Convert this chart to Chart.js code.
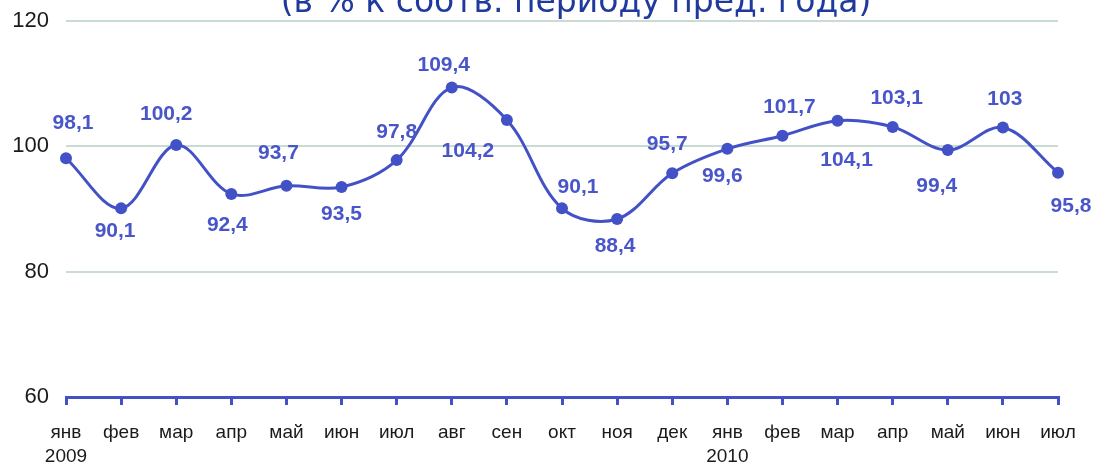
<!DOCTYPE html>
<html>
<head>
<meta charset="utf-8">
<script src="https://cdn.jsdelivr.net/npm/chart.js@4/dist/chart.umd.min.js"></script>
<style>
    html, body { margin: 0; padding: 0; background: #ffffff; overflow: hidden; }
    #wrap { position: relative; width: 1094px; height: 464px; }
</style>
</head>
<body>
<div id="wrap"><canvas id="chart"></canvas></div>
<script>
// months (second line = year under January)
const months = ['янв', 'фев', 'мар', 'апр', 'май', 'июн', 'июл', 'авг', 'сен', 'окт', 'ноя', 'дек',
                'янв', 'фев', 'мар', 'апр', 'май', 'июн', 'июл'];
const years = ['2009', '', '', '', '', '', '', '', '', '', '', '', '2010', '', '', '', '', '', ''];

// index, % to the same period of previous year
const values = [98.1, 90.1, 100.2, 92.4, 93.7, 93.5, 97.8, 109.4, 104.2, 90.1, 88.4, 95.7,
                99.6, 101.7, 104.1, 103.1, 99.4, 103, 95.8];

// y axis ticks
const yTicks = [60, 80, 100, 120];

// value label nudges relative to the point (px), as placed in the original
const labelDx = [7, -6, -10, -4, -8, 0, 0, -8, -39, 16, -2, -5, -5, 7, 9, 4, -11, 2, 13];
const labelDy = [-35, 23, -31, 31, -33, 27, -28, -22, 31, -21, 27, -29, 27, -28, 40, -29, 36, -28, 34];

const titleText = '(в % к соотв. периоду пред. года)';

const colors = {
    line: '#4351c7',
    label: '#4956c9',
    title: '#1f3a9c',
    grid: '#c9dbd3',
    text: '#1a1a1a'
};

const labels = months.map((m, i) => years[i] ? [m, years[i]] : [m]);

// title line, only its lower part fits on the picture
const topTitle = {
    id: 'topTitle',
    afterDraw(chart) {
        const ctx = chart.ctx;
        ctx.save();
        ctx.font = '33px "DejaVu Sans", Verdana, sans-serif';
        ctx.fillStyle = colors.title;
        ctx.textAlign = 'center';
        ctx.textBaseline = 'alphabetic';
        ctx.fillText(titleText, 576, 12);
        ctx.restore();
    }
};

// draws the value labels next to each point
const valueLabels = {
    id: 'valueLabels',
    afterDatasetsDraw(chart) {
        const ctx = chart.ctx;
        const meta = chart.getDatasetMeta(0);
        ctx.save();
        ctx.font = 'bold 21px "Liberation Sans", Arial, sans-serif';
        ctx.fillStyle = colors.label;
        ctx.textAlign = 'center';
        ctx.textBaseline = 'middle';
        meta.data.forEach((pt, i) => {
            const txt = String(values[i]).replace('.', ',');
            ctx.fillText(txt, pt.x + labelDx[i], pt.y + labelDy[i]);
        });
        ctx.restore();
    }
};

new Chart(document.getElementById('chart'), {
    type: 'line',
    data: {
        labels: labels,
        datasets: [{
            data: values,
            borderColor: colors.line,
            backgroundColor: colors.line,
            borderWidth: 3,
            pointRadius: 6,
            pointHoverRadius: 6,
            pointBackgroundColor: colors.line,
            pointBorderWidth: 0,
            tension: 0.35,
            fill: false
        }]
    },
    options: {
        responsive: true,
        maintainAspectRatio: false,
        animation: false,
        layout: {
            padding: { left: 0, right: 36, top: 21, bottom: 0 }
        },
        plugins: {
            legend: { display: false },
            tooltip: { enabled: false },
            title: { display: false }
        },
        scales: {
            x: {
                offset: false,
                grid: {
                    drawOnChartArea: false,
                    drawTicks: true,
                    tickLength: 8,
                    color: colors.line,
                    lineWidth: 3
                },
                border: { display: true, color: colors.line, width: 3 },
                ticks: {
                    autoSkip: false,
                    maxRotation: 0,
                    padding: 16,
                    color: colors.text,
                    font: { family: '"Liberation Sans", Arial, sans-serif', size: 19, lineHeight: 1.26 }
                },
                afterFit: function(scale) { scale.height = 67; }
            },
            y: {
                min: yTicks[0],
                max: yTicks[yTicks.length - 1],
                afterBuildTicks: function(scale) {
                    scale.ticks = yTicks.map(v => ({ value: v }));
                },
                grid: {
                    drawTicks: false,
                    color: ctx => ctx.tick && ctx.tick.value === yTicks[0] ? 'rgba(0,0,0,0)' : colors.grid,
                    lineWidth: 2
                },
                border: { display: false },
                ticks: {
                    padding: 17,
                    color: colors.text,
                    font: { family: '"Liberation Sans", Arial, sans-serif', size: 22 }
                },
                afterFit: function(scale) {
                    scale.width = 66;
                    scale.paddingTop = 0;
                    scale.paddingBottom = 0;
                }
            }
        }
    },
    plugins: [valueLabels, topTitle]
});
</script>
</body>
</html>
